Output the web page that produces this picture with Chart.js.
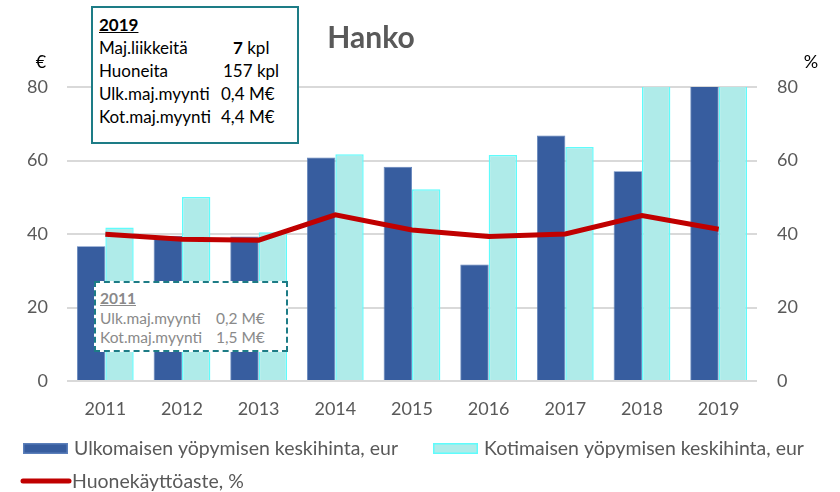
<!DOCTYPE html>
<html>
<head>
<meta charset="utf-8">
<script src="https://cdn.jsdelivr.net/npm/chart.js@4.4.1/dist/chart.umd.min.js"></script>
<style>
  html, body { margin: 0; padding: 0; background: #fff; }
  #wrap { position: relative; width: 840px; height: 492px; overflow: hidden; }
  #wrap canvas { position: absolute; left: 0; top: 0; }
  .box { position: absolute; background: #fff; box-sizing: border-box; font-family: Lato, "Open Sans", sans-serif; }
  .box .yr { font-weight: bold; text-decoration: underline; }
  .box .row { position: relative; white-space: nowrap; }
  .box .v { position: absolute; top: 0; }
  #box2019 { left: 91px; top: 6px; width: 208px; height: 138px; border: 2px solid #1d7c86;
             color: #000; font-size: 17px; line-height: 23px; padding: 5px 0 0 6px; }
  #box2011 { left: 94px; top: 281px; width: 194px; height: 71px; border: 2px dashed #1d7c86;
             color: #8a8a8a; font-size: 15.5px; line-height: 19.5px; padding: 6px 0 0 4px; }
</style>
</head>
<body>
<div id="wrap">
  <canvas id="chart" width="840" height="492"></canvas>
  <div class="box" id="box2019"></div>
  <div class="box" id="box2011"></div>
</div>
<script>
// --- data ---
var years = ['2011', '2012', '2013', '2014', '2015', '2016', '2017', '2018', '2019'];
var ulkoHinta = [36.7, 39.5, 39.3, 60.8, 58.3, 31.7, 66.8, 57.1, 88];   // 2019 runs past the 80 axis top
var kotiHinta = [41.8, 50.1, 40.5, 61.7, 52.2, 61.5, 63.7, 86, 84];    // 2018/2019 run past the axis top
var kayttoaste = [39.9, 38.6, 38.3, 45.2, 41.1, 39.3, 40.0, 45.0, 41.3];
var yTicks = [0, 20, 40, 60, 80];

var seriesNames = ['Ulkomaisen yöpymisen keskihinta, eur', 'Kotimaisen yöpymisen keskihinta, eur', 'Huonekäyttöaste, %'];
var chartTitle = 'Hanko';

var info2019Year = '2019';
var info2019Labels = ['Maj.liikkeitä', 'Huoneita', 'Ulk.maj.myynti', 'Kot.maj.myynti'];
var info2019Values = ['7', '157', '0,4', '4,4'];
var info2019Units = ['kpl', 'kpl', 'M€', 'M€'];

var info2011Year = '2011';
var info2011Labels = ['Ulk.maj.myynti', 'Kot.maj.myynti'];
var info2011Values = ['0,2', '1,5'];
var info2011Units = ['M€', 'M€'];

var GREY = '#595959';
var FONT = 'Lato, "Open Sans", sans-serif';

function fillBox(id, year, labels, values, units, valueX, boldFirst) {
    var el = document.getElementById(id);
    var html = '<div class="yr">' + year + '</div>';
    for (var i = 0; i < labels.length; i++) {
        var v = (boldFirst && i === 0) ? '<b>' + values[i] + '</b>' : values[i];
        html += '<div class="row">' + labels[i] +
            '<span class="v" style="left:' + valueX[i] + 'px">' + v + ' ' + units[i] + '</span></div>';
    }
    el.innerHTML = html;
}
fillBox('box2019', info2019Year, info2019Labels, info2019Values, info2019Units, [134, 124, 122, 122], true);
fillBox('box2011', info2011Year, info2011Labels, info2011Values, info2011Units, [116, 116], false);

// title, axis units and the two-row legend
var decorPlugin = {
    id: 'decor',
    afterDraw: function (chart) {
        var ctx = chart.ctx;
        var ds = chart.data.datasets;
        ctx.save();

        ctx.fillStyle = GREY;
        ctx.font = 'bold 30px ' + FONT;
        ctx.textAlign = 'center';
        ctx.textBaseline = 'middle';
        ctx.fillText(chartTitle, 371, 38);

        ctx.fillStyle = '#000';
        ctx.font = '18px ' + FONT;
        ctx.fillText('€', 41, 62);
        ctx.fillText('%', 811, 62);

        // legend, fitted to the width the labels take in the original
        ctx.textAlign = 'left';
        ctx.font = '18.5px ' + FONT;
        var sx = 324 / ctx.measureText(ds[1].label).width;
        var items = [
            { x: 23, y: 448, kind: 'bar', i: 1 },
            { x: 433, y: 448, kind: 'bar', i: 2 },
            { x: 21, y: 481, kind: 'line', i: 0 }
        ];
        items.forEach(function (it) {
            var d = ds[it.i];
            if (it.kind === 'bar') {
                ctx.fillStyle = d.backgroundColor;
                ctx.fillRect(it.x, it.y - 5, 45, 11);
                ctx.strokeStyle = d.borderColor;
                ctx.lineWidth = 1.5;
                ctx.strokeRect(it.x + 0.75, it.y - 4.25, 43.5, 9.5);
            } else {
                ctx.strokeStyle = d.borderColor;
                ctx.lineWidth = 5;
                ctx.lineCap = 'round';
                ctx.beginPath();
                ctx.moveTo(it.x + 2, it.y);
                ctx.lineTo(it.x + 48, it.y);
                ctx.stroke();
            }
            ctx.save();
            ctx.translate(it.x + 51, it.y + 1);
            ctx.scale(sx, 1);
            ctx.fillStyle = GREY;
            ctx.fillText(d.label, 0, 0);
            ctx.restore();
        });
        ctx.restore();
    }
};

var tickFont = { family: FONT, size: 18 };

new Chart(document.getElementById('chart'), {
    data: {
        labels: years,
        datasets: [
            {
                type: 'line', label: seriesNames[2], data: kayttoaste, yAxisID: 'y2',
                borderColor: '#c00000', borderWidth: 5, pointRadius: 0, tension: 0, order: 0
            },
            {
                type: 'bar', label: seriesNames[0], data: ulkoHinta, yAxisID: 'y',
                backgroundColor: '#375d9f', borderColor: '#5b7fba', borderWidth: 0.8,
                categoryPercentage: 0.74, barPercentage: 1, clip: 0, order: 1
            },
            {
                type: 'bar', label: seriesNames[1], data: kotiHinta, yAxisID: 'y',
                backgroundColor: '#afebe9', borderColor: '#5ffcfc', borderWidth: 1.5,
                categoryPercentage: 0.74, barPercentage: 1, clip: 0, order: 2
            }
        ]
    },
    options: {
        responsive: false,
        animation: false,
        layout: { padding: { top: 87, left: 0, right: 0, bottom: 0 } },
        plugins: { legend: { display: false }, title: { display: false }, tooltip: { enabled: false } },
        scales: {
            x: {
                grid: { display: false, drawTicks: false },
                border: { display: false },
                ticks: { color: GREY, font: tickFont, padding: 17 },
                afterFit: function (s) { s.height = 111; }
            },
            y: {
                position: 'left', min: 0, max: 80,
                afterBuildTicks: function (s) { s.ticks = yTicks.map(function (v) { return { value: v }; }); },
                grid: { color: '#d9d9d9', lineWidth: 2, drawTicks: false },
                border: { display: false },
                ticks: { color: GREY, font: tickFont, padding: 19 },
                afterFit: function (s) { s.width = 67; }
            },
            y2: {
                position: 'right', min: 0, max: 80,
                afterBuildTicks: function (s) { s.ticks = yTicks.map(function (v) { return { value: v }; }); },
                grid: { display: false, drawTicks: false },
                border: { display: false },
                ticks: { color: GREY, font: tickFont, padding: 20 },
                afterFit: function (s) { s.width = 83; }
            }
        }
    },
    plugins: [decorPlugin]
});
</script>
</body>
</html>
